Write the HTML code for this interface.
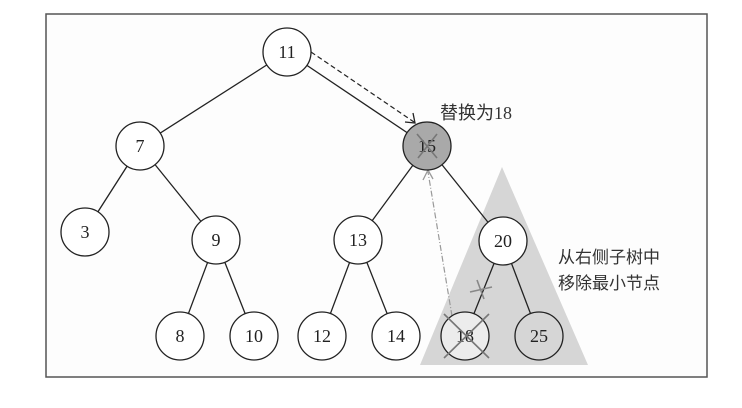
<!DOCTYPE html>
<html><head><meta charset="utf-8"><style>
html,body{margin:0;padding:0;background:#fff;}
svg{display:block;}
text{font-family:"Liberation Serif","Noto Serif CJK SC",serif;fill:#222;}
.cj{font-family:"Liberation Serif","Noto Sans CJK SC",sans-serif;fill:#333;}
</style></head><body>
<svg width="742" height="408" viewBox="0 0 742 408" xmlns="http://www.w3.org/2000/svg">
<rect x="0" y="0" width="742" height="408" fill="#fff"/>
<rect x="46" y="14" width="661" height="363" fill="#fdfdfd" stroke="#555" stroke-width="1.5"/>
<polygon points="502,167 420,365 588,365" fill="#d6d6d6"/>
<g stroke="#222" stroke-width="1.3" fill="none">
<line x1="287" y1="52" x2="140" y2="146"/>
<line x1="287" y1="52" x2="427" y2="146"/>
<line x1="140" y1="146" x2="85" y2="232"/>
<line x1="140" y1="146" x2="216" y2="240"/>
<line x1="216" y1="240" x2="180" y2="336"/>
<line x1="216" y1="240" x2="254" y2="336"/>
<line x1="427" y1="146" x2="358" y2="240"/>
<line x1="427" y1="146" x2="503" y2="241"/>
<line x1="358" y1="240" x2="322" y2="336"/>
<line x1="358" y1="240" x2="396" y2="336"/>
<line x1="503" y1="241" x2="465" y2="336"/>
<line x1="503" y1="241" x2="539" y2="336"/>
</g>
<line x1="311" y1="52" x2="414" y2="122" stroke="#222" stroke-width="1.2" stroke-dasharray="5,3"/>
<polyline points="405,122 415,123 413,113" fill="none" stroke="#222" stroke-width="1.3"/>
<line x1="452" y1="316" x2="428" y2="172" stroke="#999" stroke-width="1.2" stroke-dasharray="6,2,1,2"/>
<polyline points="423,180 428,170 433,179" fill="none" stroke="#999" stroke-width="1.3"/>
<g stroke="#888" stroke-width="1.6"><line x1="470" y1="292" x2="492" y2="287"/><line x1="477" y1="280" x2="484" y2="299"/></g>
<g stroke="#222" stroke-width="1.3">
<circle cx="287" cy="52" r="24" fill="#fff"/>
<circle cx="140" cy="146" r="24" fill="#fff"/>
<circle cx="427" cy="146" r="24" fill="#a9a9a9"/>
<circle cx="85" cy="232" r="24" fill="#fff"/>
<circle cx="216" cy="240" r="24" fill="#fff"/>
<circle cx="358" cy="240" r="24" fill="#fff"/>
<circle cx="503" cy="241" r="24" fill="#fff"/>
<circle cx="180" cy="336" r="24" fill="#fff"/>
<circle cx="254" cy="336" r="24" fill="#fff"/>
<circle cx="322" cy="336" r="24" fill="#fff"/>
<circle cx="396" cy="336" r="24" fill="#fff"/>
<circle cx="465" cy="336" r="24" fill="#ececec"/>
<circle cx="539" cy="336" r="24" fill="#d6d6d6"/>
</g>
<g font-size="18" text-anchor="middle">
<text x="287" y="58">11</text>
<text x="140" y="152">7</text>
<text x="427" y="152" fill="#444">15</text>
<text x="85" y="238">3</text>
<text x="216" y="246">9</text>
<text x="358" y="246">13</text>
<text x="503" y="247">20</text>
<text x="180" y="342">8</text>
<text x="254" y="342">10</text>
<text x="322" y="342">12</text>
<text x="396" y="342">14</text>
<text x="465" y="342" fill="#555">18</text>
<text x="539" y="342">25</text>
</g>
<g stroke="#777" stroke-width="1.6">
<line x1="417" y1="134" x2="437" y2="158"/><line x1="437" y1="134" x2="418" y2="158"/>
<line x1="444" y1="314" x2="489" y2="358"/><line x1="489" y1="314" x2="444" y2="358"/>
</g>
<text class="cj" x="440" y="119" font-size="18">替换为18</text>
<text class="cj" x="558" y="263" font-size="17">从右侧子树中</text>
<text class="cj" x="558" y="289" font-size="17">移除最小节点</text>
</svg>
</body></html>
